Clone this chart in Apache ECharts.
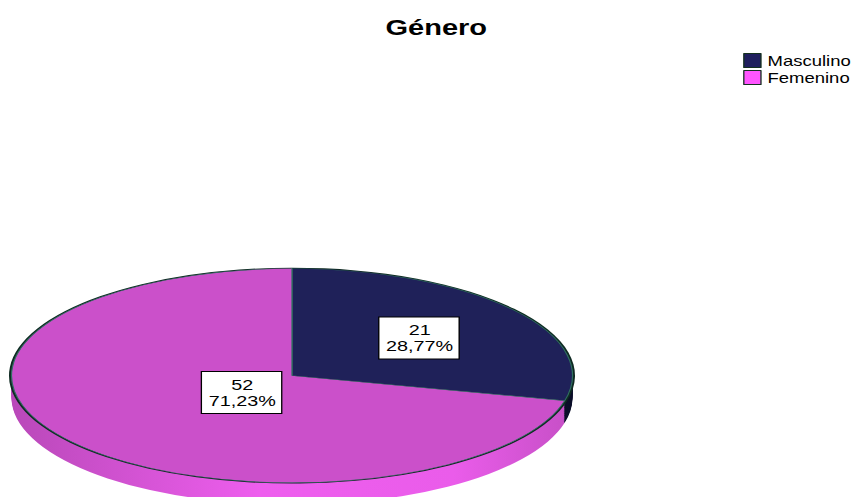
<!DOCTYPE html>
<html>
<head>
<meta charset="utf-8">
<title>Género</title>
<script src="https://cdn.jsdelivr.net/npm/echarts@6/dist/echarts.min.js"></script>
<style>
  html, body { margin: 0; padding: 0; background: #fff; overflow: hidden; width: 857px; height: 497px; }
  /* pie drawn as a circle, squashed into the tilted ellipse */
  #pie { position: absolute; left: 0; top: 265.4px; width: 857px; height: 700px; transform: scaleY(0.3815); transform-origin: 0 0; }
  /* title, legend and labels: the SPSS export is stretched horizontally */
  #over { position: absolute; left: 0; top: 0; width: 649px; height: 497px; transform: scaleX(1.32); transform-origin: 0 0; }
</style>
</head>
<body>
<div id="pie"></div>
<div id="over"></div>
<script>
// data
var categories = ['Masculino', 'Femenino'];
var counts = [21, 52];

// colours
var faceColors = ['#1f2159', '#cb50ca'];
var legendColors = ['#1f1f5e', '#ff55ff'];
var navySide = '#0c0f2a';
var pinkSide = new echarts.graphic.LinearGradient(0, 0, 1, 0, [
  { offset: 0, color: '#b948b9' },
  { offset: 0.45, color: '#ee5eee' },
  { offset: 0.8, color: '#ea5cea' },
  { offset: 1, color: '#c850c8' }
]);

var total = counts.reduce(function (a, b) { return a + b; }, 0);

function pieData(colors) {
  return categories.map(function (c, i) {
    return { name: c, value: counts[i], itemStyle: { color: colors[i] } };
  });
}

// ---- the pie (3d look: stacked layers underneath the top face) ----
var R = 280.5, CX = 292, CY = 290, DEPTH = 58;
var pieSeries = [];
for (var off = DEPTH; off > 0; off -= 3) {
  pieSeries.push({
    type: 'pie', radius: R, center: [CX, CY + off],
    silent: true, label: { show: false }, labelLine: { show: false },
    itemStyle: { borderWidth: 0 },
    data: pieData([navySide, pinkSide])
  });
}
// dark outline ring
pieSeries.push({
  type: 'pie', radius: R + 2.5, center: [CX, CY],
  silent: true, label: { show: false }, labelLine: { show: false },
  itemStyle: { borderWidth: 0 },
  data: pieData(['#0f2a22', '#0f2a22'])
});
// top face
pieSeries.push({
  type: 'pie', radius: R, center: [CX, CY],
  silent: true, label: { show: false }, labelLine: { show: false },
  itemStyle: { borderColor: '#2f6f60', borderWidth: 1.2 },
  data: pieData(faceColors)
});

var pieChart = echarts.init(document.getElementById('pie'), null, { renderer: 'svg' });
pieChart.setOption({
  animation: false,
  series: pieSeries
});

// ---- title, legend, value boxes ----
var labelPos = [[317.4, 338], [183, 392.5]];   // box centres (overlay coords)
var labels = categories.map(function (c, i) {
  var pct = (counts[i] / total * 100).toFixed(2).replace('.', ',') + '%';
  return {
    type: 'text', x: labelPos[i][0], y: labelPos[i][1], z: 100,
    style: {
      text: counts[i] + '\n' + pct,
      font: '15px Arial, "Liberation Sans", sans-serif',
      fill: '#000', align: 'center', verticalAlign: 'middle',
      lineHeight: 16,
      backgroundColor: '#fff', borderColor: '#000', borderWidth: 1,
      padding: [5, 4, 4, 5]
    }
  };
});

var overChart = echarts.init(document.getElementById('over'), null, { renderer: 'svg' });
overChart.setOption({
  animation: false,
  title: {
    text: 'Género',
    left: 287, top: 11,
    textStyle: { fontFamily: 'Arial, "Liberation Sans", sans-serif', fontSize: 22, fontWeight: 'bold', color: '#000' }
  },
  legend: {
    orient: 'vertical', left: 558, top: 48,
    itemWidth: 13, itemHeight: 14, itemGap: 2,
    icon: 'rect', selectedMode: false,
    itemStyle: { borderColor: '#14301f', borderWidth: 1 },
    textStyle: { fontFamily: 'Arial, "Liberation Sans", sans-serif', fontSize: 14, color: '#000' },
    data: categories
  },
  series: [{
    // only feeds the legend
    type: 'pie', radius: [0, 0], center: [-100, -100], silent: true,
    label: { show: false }, labelLine: { show: false },
    data: pieData(legendColors)
  }],
  graphic: labels
});
</script>
</body>
</html>
